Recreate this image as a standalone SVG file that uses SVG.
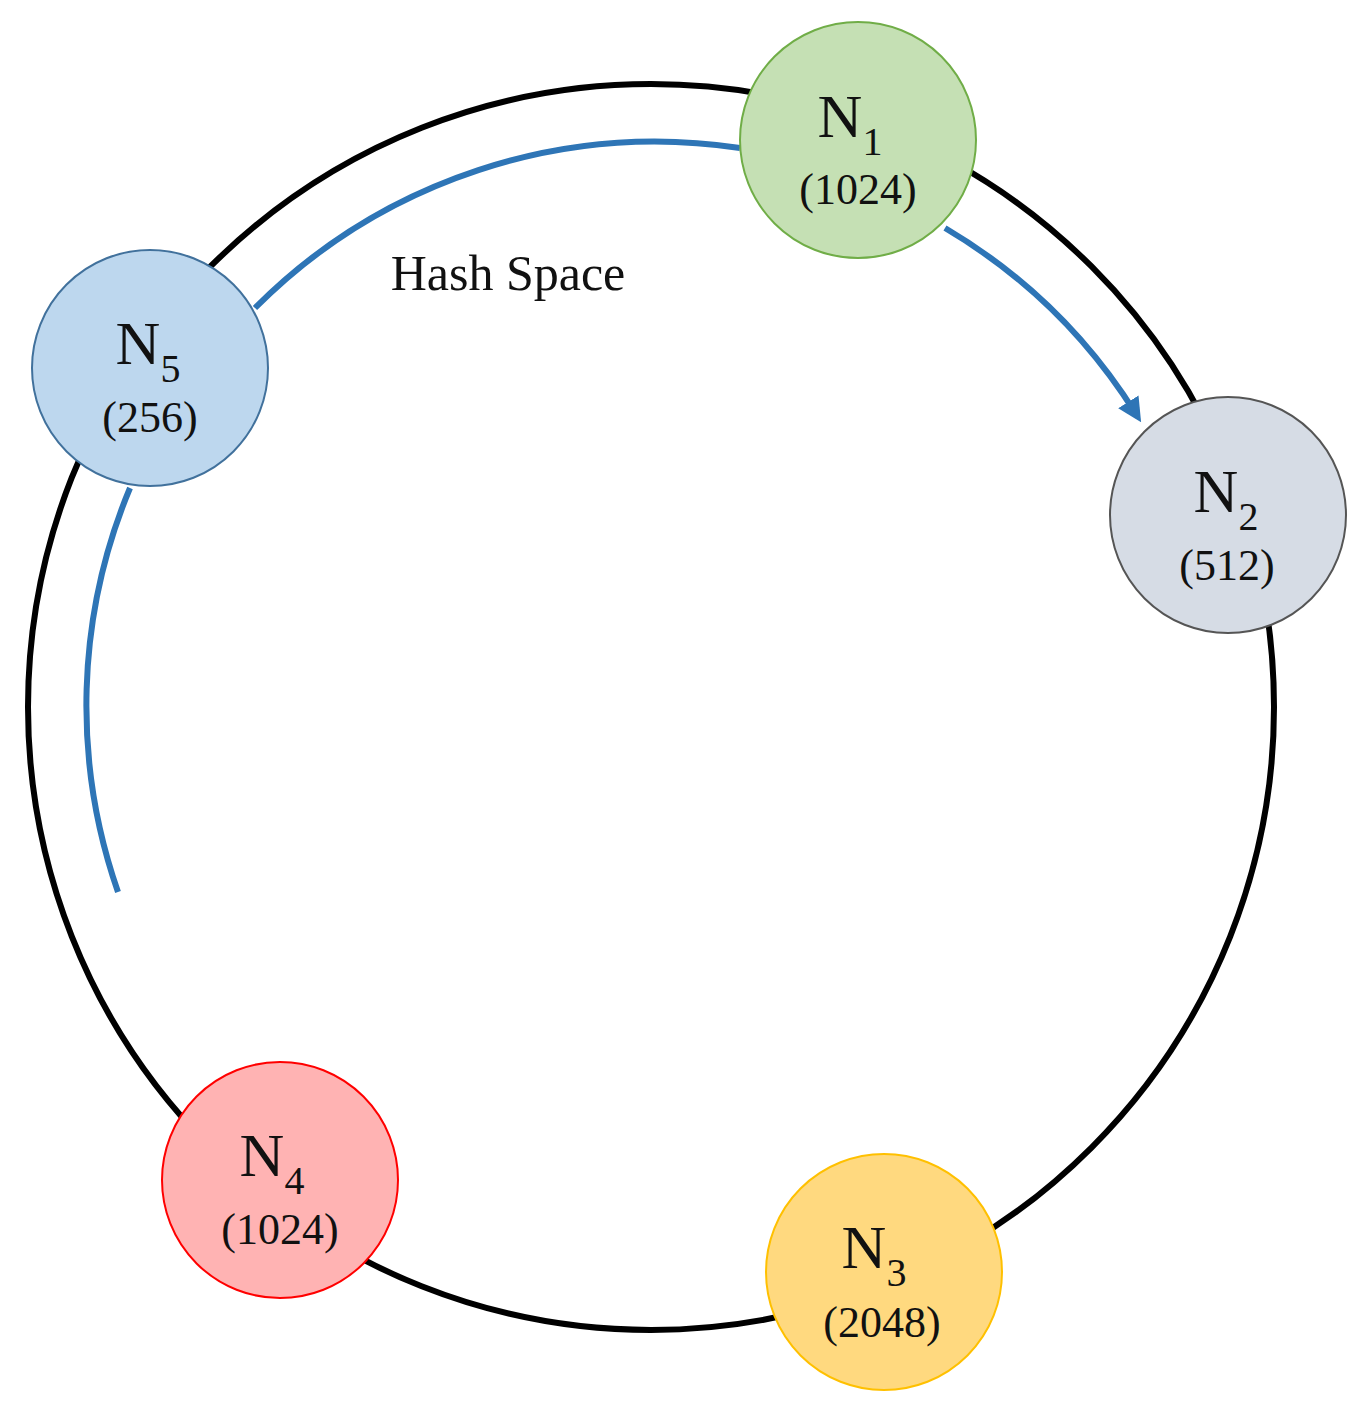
<svg xmlns="http://www.w3.org/2000/svg" width="1357" height="1413" viewBox="0 0 1357 1413">
<style>
text{font-family:"Liberation Serif","Times New Roman",serif;fill:#111;text-anchor:middle}
.n{font-size:62px}.s{font-size:40px}.v{font-size:44px}
.arc{fill:none;stroke:#2e75b6;stroke-width:6}
.node{stroke-width:2}
</style>
<defs><marker id="ah" viewBox="0 0 10 10" refX="6" refY="5" markerWidth="4" markerHeight="4" orient="auto"><path d="M0,0L10,5L0,10z" fill="#2e75b6"/></marker></defs>
<g id="ring"><circle cx="651" cy="707" r="623" fill="none" stroke="#000" stroke-width="6"/></g>
<g id="connectors">
<path class="arc" d="M740,148 A565,565 0 0 0 255,308"/>
<path class="arc" d="M130,488 A565,565 0 0 0 118,892"/>
<path class="arc" d="M945,228 A565,565 0 0 1 1136,414" marker-end="url(#ah)"/>
</g>
<text x="508" y="290" style="font-size:50px">Hash Space</text>
<g id="N1"><circle class="node" cx="858" cy="140" r="118" fill="#c5e0b4" stroke="#70ad47"/><text x="850" y="137"><tspan class="n">N</tspan><tspan class="s" dy="18">1</tspan></text><text class="v" x="858" y="204">(1024)</text></g>
<g id="N2"><circle class="node" cx="1228" cy="515" r="118" fill="#d6dce5" stroke="#555"/><text x="1226" y="512"><tspan class="n">N</tspan><tspan class="s" dy="18">2</tspan></text><text class="v" x="1227" y="580">(512)</text></g>
<g id="N3"><circle class="node" cx="884" cy="1272" r="118" fill="#ffd97f" stroke="#ffc000"/><text x="874" y="1268"><tspan class="n">N</tspan><tspan class="s" dy="18">3</tspan></text><text class="v" x="882" y="1337">(2048)</text></g>
<g id="N4"><circle class="node" cx="280" cy="1180" r="118" fill="#ffb3b3" stroke="#ff0000"/><text x="272" y="1176"><tspan class="n">N</tspan><tspan class="s" dy="18">4</tspan></text><text class="v" x="280" y="1244">(1024)</text></g>
<g id="N5"><circle class="node" cx="150" cy="368" r="118" fill="#bdd7ee" stroke="#41719c"/><text x="148" y="364"><tspan class="n">N</tspan><tspan class="s" dy="18">5</tspan></text><text class="v" x="150" y="432">(256)</text></g>
</svg>
